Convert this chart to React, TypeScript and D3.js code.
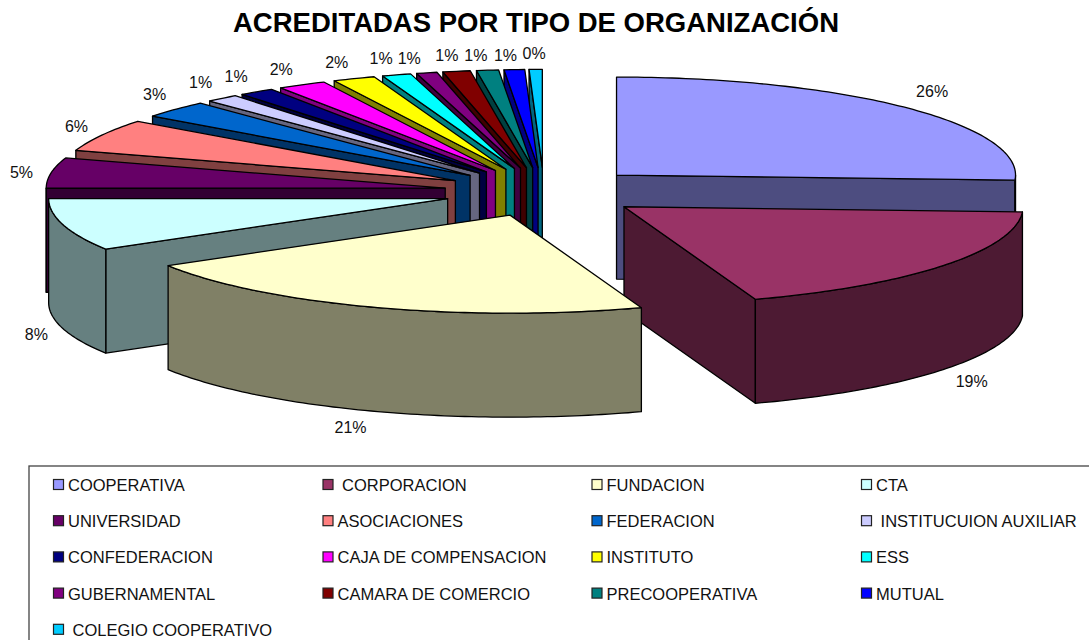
import React from "react";
import * as d3 from "d3";

const titleText = "ACREDITADAS POR TIPO DE ORGANIZACIÓN";
const categories = ["COOPERATIVA", " CORPORACION", "FUNDACION", "CTA", "UNIVERSIDAD", "ASOCIACIONES", "FEDERACION", " INSTITUCUION AUXILIAR", "CONFEDERACION", "CAJA DE COMPENSACION", "INSTITUTO", "ESS", "GUBERNAMENTAL", "CAMARA DE COMERCIO", "PRECOOPERATIVA", "MUTUAL", " COLEGIO COOPERATIVO"];
const shares = [25.83, 18.83, 21.72, 8.61, 5.0, 5.36, 2.83, 1.33, 1.44, 1.97, 1.72, 1.17, 0.83, 1.11, 0.89, 0.83, 0.53];
const shareLabels = ["26%", "19%", "21%", "8%", "5%", "6%", "3%", "1%", "1%", "2%", "2%", "1%", "1%", "1%", "1%", "1%", "0%"];
const topColors = ["#9999FF", "#993366", "#FFFFCC", "#CCFFFF", "#660066", "#FF8080", "#0066CC", "#CCCCFF", "#000080", "#FF00FF", "#FFFF00", "#00FFFF", "#800080", "#800000", "#008080", "#0000FF", "#00CCFF"];
// small hand adjustments of each percentage label from its computed spot
const labelNudgeX = [3, 3, -13, 4, 2, 3, 3, -1, -2, -5, -5, -6, -10, -4, -8, -7, -1];
const labelNudgeY = [-4, 2, 0, 1, 2, -1, -3, -3, -1, 0, 0, 0, 2, 1, 2, 3, 1];

const FONT = "'Liberation Sans', Arial, sans-serif";
const W = 1089, H = 640;
const CX = 544, CY = 192, RX = 399, RY = 98, DEPTH = 104, EX = 100, EY = 24.6;
const TAU = Math.PI * 2;

const pieGen = d3.pie<number>().sort(null).value((d) => d).startAngle(0).endAngle(TAU);
const lineGen = d3.line<[number, number]>();

type Pt = [number, number];
const shade = (c: string) => { const r = d3.rgb(c); return d3.rgb(r.r / 2, r.g / 2, r.b / 2).formatHex(); };

function sliceShapes(a0: number, a1: number) {
  const m = (a0 + a1) / 2;
  const ax = CX + EX * Math.sin(m), ay = CY - EY * Math.cos(m);
  const rim = (t: number, dy = 0): Pt => [ax + RX * Math.sin(t), ay - RY * Math.cos(t) + dy];
  const apex: Pt = [ax, ay];
  const n = Math.max(2, Math.ceil(((a1 - a0) * 180) / Math.PI));
  const angles = d3.range(n + 1).map((i) => a0 + ((a1 - a0) * i) / n);
  const top = lineGen([apex, ...angles.map((t) => rim(t))]) + "Z";
  const walls: string[] = [];
  const edge = (t: number) => lineGen([apex, rim(t), rim(t, DEPTH), [ax, ay + DEPTH]]) + "Z";
  if (Math.sin(a0) < -1e-6) walls.push(edge(a0));
  if (Math.sin(a1) > 1e-6) walls.push(edge(a1));
  const lo = Math.max(a0, Math.PI / 2), hi = Math.min(a1, (3 * Math.PI) / 2);
  if (hi > lo) {
    const k = Math.max(2, Math.ceil(((hi - lo) * 180) / Math.PI));
    const ts = d3.range(k + 1).map((i) => lo + ((hi - lo) * i) / k);
    walls.push(lineGen([...ts.map((t) => rim(t)), ...ts.slice().reverse().map((t) => rim(t, DEPTH))]) + "Z");
  }
  const s = Math.sin(m), c = Math.cos(m);
  const lift = c < 0 ? DEPTH : 0;
  const label: Pt = [ax + RX * s + 32 * s, ay - RY * c + lift - 17 * c];
  return { top, walls, label };
}

const arcs = pieGen(shares);
const shapes = arcs.map((a) => sliceShapes(a.startAngle, a.endAngle));
// back to front: top-left fan from the far end down to CTA, then the three big slices
const drawOrder = [...d3.range(16, 2, -1).map((i) => i), 0, 1, 2];

const legendCols = [53, 322.5, 591.5, 861];
const legendRows = [485, 521.2, 557.4, 593.6, 629.8];
const PER_ROW = 4;

export default function App() {
  return (
    <svg width={W} height={H} viewBox={`0 0 ${W} ${H}`} style={{ position: "fixed", left: 0, top: 0, display: "block", background: "#fff" }}>
      <text x={536} y={32} textAnchor="middle" fontFamily={FONT} fontWeight="bold" fontSize={27.5}>{titleText}</text>
      {drawOrder.map((i) => (
        <g key={i} stroke="#000" strokeWidth={1.3} strokeLinejoin="round">
          {shapes[i].walls.map((d, j) => <path key={j} d={d} fill={shade(topColors[i])} />)}
          <path d={shapes[i].top} fill={topColors[i]} />
        </g>
      ))}
      {shapes.map((s, i) => (
        <text key={i} x={s.label[0] + labelNudgeX[i]} y={s.label[1] + labelNudgeY[i]} textAnchor="middle" dominantBaseline="central" fontFamily={FONT} fontSize={16} fill="#111">{shareLabels[i]}</text>
      ))}
      <rect x={29} y={466} width={W + 20} height={H} fill="none" stroke="#444" strokeWidth={1.3} />
      {categories.map((c, i) => {
        const col = legendCols[i % PER_ROW], row = legendRows[Math.floor(i / PER_ROW)];
        return (
          <g key={c}>
            <rect x={col + 0.5} y={row - 5.5} width={10} height={10} fill={topColors[i]} stroke="#222" strokeWidth={1.2} />
            <text x={col + 15} y={row} dominantBaseline="central" fontFamily={FONT} fontSize={16.5} fill="#111" style={{ whiteSpace: "pre" }}>{c}</text>
          </g>
        );
      })}
    </svg>
  );
}
